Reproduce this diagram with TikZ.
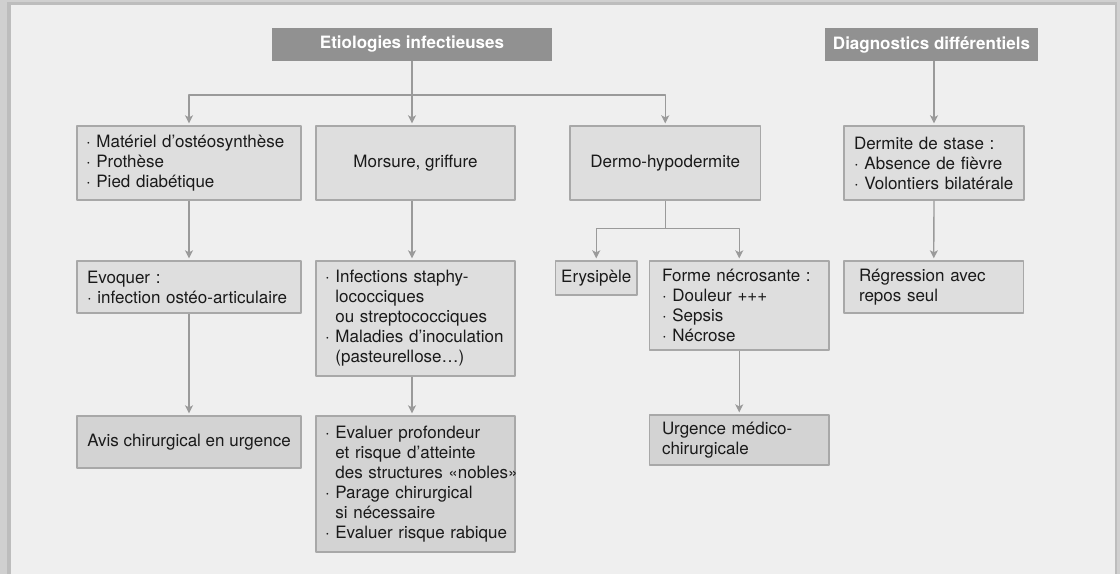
\documentclass[tikz,border=0pt]{standalone}
\usepackage{fontspec}
\setmainfont{TeX Gyre Heros}
\usepackage{tikz}
\usetikzlibrary{arrows.meta,positioning}
\definecolor{frameout}{HTML}{D0D0D0}
\definecolor{frameline}{HTML}{BDBDBD}
\definecolor{pagebg}{HTML}{EFEFEF}
\definecolor{headfill}{HTML}{919191}
\definecolor{boxfill}{HTML}{DEDEDE}
\definecolor{boxdark}{HTML}{D3D3D3}
\definecolor{boxline}{HTML}{A8A8A8}
\definecolor{arrgrey}{HTML}{9A9A9A}
\definecolor{txt}{HTML}{1A1A1A}
\hyphenpenalty=10000
\exhyphenpenalty=10000
\newcommand{\bul}{·~}
\newcommand{\cont}{\hphantom{·~}}

\begin{document}
\begin{tikzpicture}[x=1pt, y=-1pt, line join=round,
  font=\fontsize{17}{20}\selectfont,
  box/.style={draw=boxline, fill=boxfill, line width=1.4pt, inner xsep=9pt, inner ysep=0pt, align=left, text=txt},
  dark/.style={fill=boxdark},
  head/.style={fill=headfill, text=white, font=\fontsize{17}{20}\selectfont\bfseries, inner sep=0pt},
  link/.style={draw=arrgrey, line width=1.3pt},
  arr/.style={link, -{Stealth[length=8pt,width=8pt,inset=2pt]}, shorten >=2pt}]
\fill[frameout] (0,0) rectangle (1120,574);
\fill[frameline] (7,2) rectangle (1116.5,574);
\fill[pagebg] (11,5) rectangle (1114.5,574);
\useasboundingbox (0,0) rectangle (1120,574);

\node[head, minimum width=280pt, minimum height=33pt] (eti) at (412,44.5) {Etiologies infectieuses};
\node[head, minimum width=213pt, minimum height=33pt] (diag) at (931.5,44.5) {Diagnostics différentiels};

\node[box, text width=206pt, minimum height=74pt] (mat) at (189,163) {\bul Matériel~d’ostéosynthèse\\ \bul Prothèse\\ \bul Pied~diabétique};
\node[box, align=center, minimum width=199pt, minimum height=74pt] (mors) at (415.5,163) {Morsure, griffure};
\node[box, align=center, minimum width=190.5pt, minimum height=74pt] (dermo) at (665.25,163) {Dermo-hypodermite};
\node[box, inner xsep=10pt, text width=160pt, minimum height=74pt] (stase) at (934,163) {Dermite~de~stase~:\\ \bul Absence~de~fièvre\\ \bul Volontiers~bilatérale};

\node[box, inner xsep=10pt, text width=204pt, minimum height=52pt] (evoq) at (189,287) {Evoquer~:\\ \bul infection~ostéo-articulaire};
\node[box, text width=181pt, minimum height=115pt] (infec) at (415.5,318.5) {\bul Infections~staphy-\\ \cont lococciques\\ \cont ou~streptococciques\\ \bul Maladies~d’inoculation\\ \cont (pasteurellose…)};
\node[box, align=center, inner xsep=4pt, minimum width=81.5pt, minimum height=34pt] (erys) at (596.25,278) {Erysipèle};
\node[box, inner xsep=12.5pt, text width=154.5pt, minimum height=89pt] (forme) at (739.25,305.5) {Forme~nécrosante~:\\ \bul Douleur~+++\\ \bul Sepsis\\ \bul Nécrose};
\node[box, inner xsep=15pt, text width=149.5pt, minimum height=52pt] (regr) at (933.75,287) {Régression~avec\\ repos~seul};

\node[box, dark, align=center, minimum width=224pt, minimum height=52pt] (avis) at (189,442) {Avis chirurgical en urgence};
\node[box, dark, text width=181pt, minimum height=136pt] (evalr) at (415.5,484) {\bul Evaluer~profondeur\\ \cont et~risque~d’atteinte\\ \cont des~structures~«nobles»\\ \bul Parage~chirurgical\\ \cont si~nécessaire\\ \bul Evaluer~risque~rabique};
\node[box, dark, inner xsep=12.5pt, text width=154.5pt, minimum height=50pt] (urg) at (739.25,440) {Urgence~médico-\\ chirurgicale};

\coordinate (etifork) at (412,95);
\coordinate[below=28pt of dermo.south] (dermofork);
\draw[link] (eti) -- (etifork);
\draw[arr] (etifork) -| (mat);
\draw[arr] (etifork) -- (etifork |- mors.north);
\draw[arr] (etifork) -| (dermo);
\draw[arr] (diag.south -| stase) -- (stase);
\draw[arr] (mat) -- (evoq);
\draw[arr] (evoq) -- (avis);
\draw[arr] (mors.south -| etifork) -- (infec.north -| etifork);
\draw[arr] (infec.south -| etifork) -- (evalr.north -| etifork);
\draw[link] (dermo) -- (dermofork);
\draw[arr] (dermofork) -| (erys);
\draw[arr] (dermofork) -| (forme);
\draw[arr] (forme) -- (urg);
\draw[arr] (stase) -- (regr);
\end{tikzpicture}
\end{document}
